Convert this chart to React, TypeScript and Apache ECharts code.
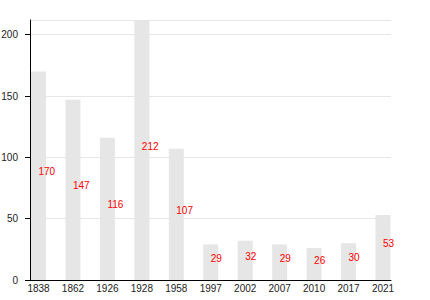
import React, { useEffect, useRef } from "react";
import * as echarts from "echarts";

const years = ["1838", "1862", "1926", "1928", "1958", "1997", "2002", "2007", "2010", "2017", "2021"];
const population = [170, 147, 116, 212, 107, 29, 32, 29, 26, 30, 53];
const yMax = 212;
const yStep = 50;

export default function App() {
  const ref = useRef<HTMLDivElement>(null);
  useEffect(() => {
    if (!ref.current) return;
    const chart = echarts.init(ref.current, undefined, { renderer: "svg" });
    const font = "'Liberation Sans', Arial, sans-serif";
    chart.setOption({
      animation: false,
      grid: [
        { left: 30, right: 39, top: 20, bottom: 20, containLabel: false, outerBoundsMode: "none" },
        { left: 38.5, right: 47, top: 20, bottom: 20, containLabel: false, outerBoundsMode: "none" },
      ],
      xAxis: [
        {
          gridIndex: 0,
          type: "value",
          min: 0,
          max: 1,
          axisLine: { show: true, onZero: false, lineStyle: { color: "#000", width: 1 } },
          axisTick: { show: false },
          splitLine: { show: false },
          axisLabel: { show: false },
        },
        {
          gridIndex: 1,
          type: "category",
          data: years,
          boundaryGap: false,
          axisLine: { show: false },
          axisTick: { show: false },
          splitLine: { show: false },
          axisLabel: {
            show: true,
            interval: 0,
            margin: 3,
            fontSize: 10,
            fontFamily: font,
            color: "#222",
          },
        },
      ],
      yAxis: [
        {
          gridIndex: 0,
          type: "value",
          min: 0,
          max: yMax,
          interval: yStep,
          axisLine: { show: true, onZero: false, lineStyle: { color: "#000", width: 1 } },
          axisTick: { show: true, inside: false, length: 5, lineStyle: { color: "#000", width: 1 } },
          splitLine: { show: true, lineStyle: { color: "#e6e6e6", width: 1 } },
          axisLabel: {
            show: true,
            margin: 12,
            fontSize: 10,
            fontFamily: font,
            color: "#222",
            showMaxLabel: false,
          },
        },
        {
          gridIndex: 1,
          type: "value",
          min: 0,
          max: yMax,
          show: false,
        },
      ],
      series: [
        {
          type: "bar",
          xAxisIndex: 1,
          yAxisIndex: 1,
          data: population,
          barWidth: 15,
          itemStyle: { color: "#e6e6e6" },
          label: {
            show: true,
            position: ["50%", "50%"],
            align: "left",
            verticalAlign: "middle",
            offset: [0, -4],
            color: "#ff0000",
            fontSize: 10,
            fontFamily: font,
          },
        },
      ],
    });
    return () => chart.dispose();
  }, []);
  return (
    <div style={{ position: "absolute", left: 0, top: 0, width: 430, height: 300 }}>
      <div ref={ref} style={{ width: 430, height: 300 }} />
    </div>
  );
}
